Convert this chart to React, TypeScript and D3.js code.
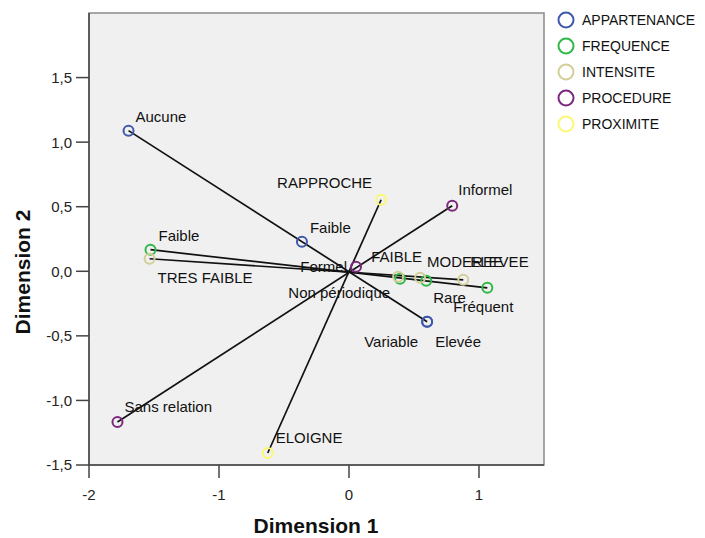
import React from "react";
import * as d3 from "d3";

// ---- data ----
const variables = ["APPARTENANCE", "FREQUENCE", "INTENSITE", "PROCEDURE", "PROXIMITE"];
const colors = ["#3e58ac", "#2eb848", "#d3ce97", "#7c287d", "#fbf873"];

const appartenanceCats = ["Aucune", "Faible", "Variable", "Elevée"];
const appartenanceX = [-1.696, -0.362, 0.601, 0.601];
const appartenanceY = [1.089, 0.229, -0.391, -0.391];

const frequenceCats = ["Faible", "Non périodique", "Rare", "Fréquent"];
const frequenceX = [-1.527, 0.393, 0.594, 1.064];
const frequenceY = [0.167, -0.058, -0.074, -0.128];

const intensiteCats = ["TRES FAIBLE", "FAIBLE", "MODEREE", "ELEVEE"];
const intensiteX = [-1.534, 0.378, 0.547, 0.879];
const intensiteY = [0.097, -0.043, -0.05, -0.066];

const procedureCats = ["Sans relation", "Formel", "Informel"];
const procedureX = [-1.781, 0.054, 0.794];
const procedureY = [-1.167, 0.035, 0.508];

const proximiteCats = ["ELOIGNE", "RAPPROCHE"];
const proximiteX = [-0.625, 0.247];
const proximiteY = [-1.407, 0.554];

const xTicks = [-2, -1, 0, 1];
const yTicks = [-1.5, -1.0, -0.5, 0.0, 0.5, 1.0, 1.5];

// label placement (dx, dy, anchor) per variable, per category
const labelPlacement: [number, number, string][][] = [
  [[7, -9, "start"], [8, -9, "start"], [-9, 25, "end"], [8, 25, "start"]],
  [[8, -9, "start"], [-10, 19, "end"], [7, 22, "start"], [-34, 24, "start"]],
  [[8, 24, "start"], [-27, -15, "start"], [7, -11, "start"], [7, -13, "start"]],
  [[7, -10, "start"], [-9, 5, "end"], [6, -11, "start"]],
  [[8, -10, "start"], [-9, -12, "end"]],
];

const series = [
  { cats: appartenanceCats, xs: appartenanceX, ys: appartenanceY },
  { cats: frequenceCats, xs: frequenceX, ys: frequenceY },
  { cats: intensiteCats, xs: intensiteX, ys: intensiteY },
  { cats: procedureCats, xs: procedureX, ys: procedureY },
  { cats: proximiteCats, xs: proximiteX, ys: proximiteY },
];

const FONT = "'Liberation Sans', Arial, Helvetica, sans-serif";

export default function App() {
  const W = 705, H = 538;
  const left = 89, right = 544, top = 13, bottom = 465;
  const x = d3.scaleLinear().domain([-2, 1.5]).range([left, right]);
  const y = d3.scaleLinear().domain([-1.5, 2]).range([bottom, top]);
  const fmt = (v: number) => d3.format(".1f")(v).replace(".", ",").replace("−", "-");
  const line = d3.line<[number, number]>().x(d => x(d[0])).y(d => y(d[1]));

  return (
    <svg width={W} height={H} style={{ position: "absolute", left: 0, top: 0, background: "#fff" }} fontFamily={FONT}>
      <rect x={left} y={top} width={right - left} height={bottom - top} fill="#f0f0f0" stroke="#8a8a8a" strokeWidth={1.5} />
      {/* axes */}
      <line x1={left} x2={left} y1={top} y2={bottom} stroke="#444" strokeWidth={1.5} />
      <line x1={left} x2={right} y1={bottom} y2={bottom} stroke="#444" strokeWidth={1.5} />
      {yTicks.map(t => (
        <g key={"y" + t}>
          <line x1={left - 13} x2={left} y1={y(t)} y2={y(t)} stroke="#444" strokeWidth={1.5} />
          <text x={left - 17} y={y(t)} dy="0.36em" textAnchor="end" fontSize={15} fill="#222">{fmt(t)}</text>
        </g>
      ))}
      {xTicks.map(t => (
        <g key={"x" + t}>
          <line x1={x(t)} x2={x(t)} y1={bottom} y2={bottom + 13} stroke="#444" strokeWidth={1.5} />
          <text x={x(t)} y={bottom + 35} textAnchor="middle" fontSize={15} fill="#222">{String(t).replace("−", "-")}</text>
        </g>
      ))}
      <text x={316} y={533} textAnchor="middle" fontSize={21} fontWeight="bold" fill="#111">Dimension 1</text>
      <text transform={`translate(30, ${272}) rotate(-90)`} textAnchor="middle" fontSize={21} fontWeight="bold" fill="#111">Dimension 2</text>

      {/* vector lines */}
      {series.map((s, i) => {
        const pts = s.xs.map((v, j) => [v, s.ys[j]] as [number, number]).sort((a, b) => a[0] - b[0]);
        return <path key={"l" + i} d={line([pts[0], pts[pts.length - 1]]) || ""} fill="none" stroke="#111" strokeWidth={1.7} />;
      })}
      {/* points */}
      {series.map((s, i) =>
        s.xs.map((v, j) => (
          <circle key={`p${i}-${j}`} cx={x(v)} cy={y(s.ys[j])} r={5} fill="none" stroke={colors[i]} strokeWidth={2} />
        ))
      )}
      {/* labels */}
      {series.map((s, i) =>
        s.cats.map((c, j) => {
          const [dx, dy, anchor] = labelPlacement[i][j];
          return (
            <text key={`t${i}-${j}`} x={x(s.xs[j]) + dx} y={y(s.ys[j]) + dy} textAnchor={anchor} fontSize={15} fill="#111">{c}</text>
          );
        })
      )}
      {/* legend */}
      {variables.map((v, i) => (
        <g key={"lg" + i}>
          <circle cx={566} cy={20 + i * 26} r={7.5} fill="none" stroke={colors[i]} strokeWidth={2} />
          <text x={582} y={20 + i * 26} dy="0.36em" fontSize={14} fill="#111">{v}</text>
        </g>
      ))}
    </svg>
  );
}
